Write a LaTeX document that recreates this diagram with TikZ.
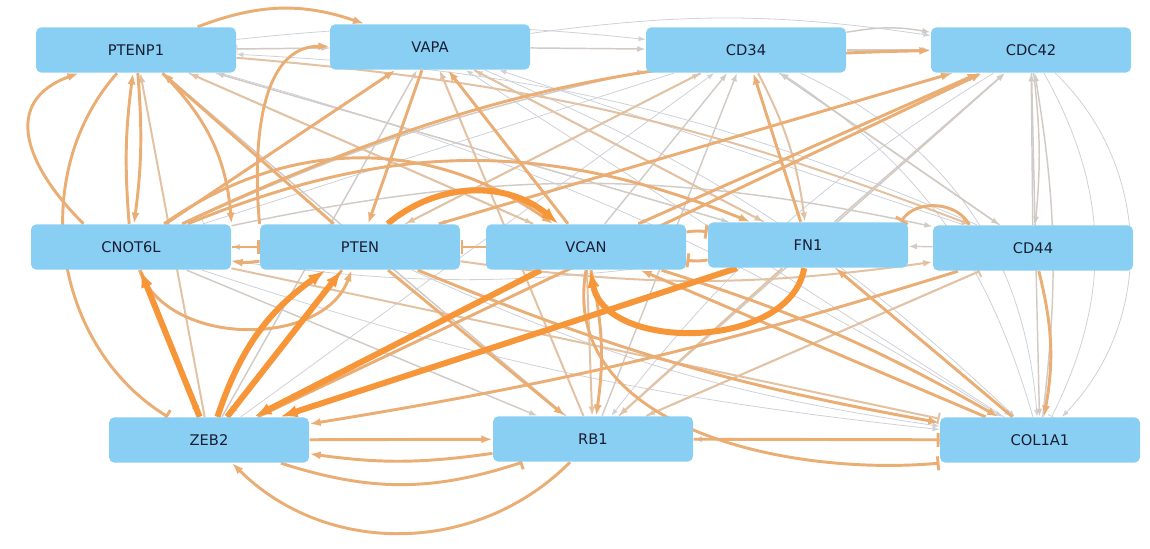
\documentclass[tikz,border=0pt]{standalone}
\usepackage{fontspec}
\setmainfont{DejaVu Sans}
\usetikzlibrary{arrows.meta,backgrounds}

\definecolor{geneblue}{RGB}{137,207,244}
\definecolor{genetext}{RGB}{25,30,50}
\definecolor{hotorange}{RGB}{247,150,56}
\definecolor{warmtan}{RGB}{234,174,116}
\definecolor{midtan}{RGB}{226,194,162}
\definecolor{coolgray}{RGB}{210,203,197}
\definecolor{faintgray}{RGB}{206,209,216}

\tikzset{every picture/.style={line width=0.75pt}}
\tikzset{
  gene/.style={rectangle, rounded corners=4pt, fill=geneblue, text=genetext,
    minimum width=150pt, minimum height=34pt, inner sep=0pt, font=\fontsize{11}{13}\selectfont},
  act/.style={-{Latex[length=4pt 2,width=3pt 1.4]}},
  inh/.style={-{Bar[width=5pt 2.5]}},
  hot/.style={draw=hotorange, line width=4.5pt},
  warm/.style={draw=warmtan, line width=2.2pt},
  mid/.style={draw=midtan, line width=1.5pt},
  cool/.style={draw=coolgray, line width=1.1pt},
  faint/.style={draw=faintgray, line width=0.6pt},
}

\begin{document}
\begin{tikzpicture}[x=0.75pt,y=0.75pt,yscale=-1,xscale=1]
\useasboundingbox (0,0) rectangle (1150,549);

% Genes, top row
\node[gene] (ptenp1) at (136,50) {PTENP1};
\node[gene] (vapa) at (430,47) {VAPA};
\node[gene] (cd34) at (746,50) {CD34};
\node[gene] (cdc42) at (1031,50) {CDC42};
% Genes, middle row
\node[gene] (cnot6l) at (131,247) {CNOT6L};
\node[gene] (pten) at (360,247) {PTEN};
\node[gene] (vcan) at (586,247) {VCAN};
\node[gene] (fn1) at (808,245) {FN1};
\node[gene] (cd44) at (1033,248) {CD44};
% Genes, bottom row
\node[gene] (zeb2) at (209,440) {ZEB2};
\node[gene] (rb1) at (593,439) {RB1};
\node[gene] (col1a1) at (1040,440) {COL1A1};

% (yscale=-1 mirrors the bends: bend right bulges to the left of travel)
\begin{scope}[on background layer]
% faint links
\draw[faint,act] (ptenp1) to[bend right=6] (cd34);
\draw[faint,act] (vapa) to[bend right=8] (cdc42);
\draw[faint,act] (cdc42) to[bend right=45] (col1a1);
\draw[faint,inh] (cdc42) to[bend right=28] (col1a1);
\draw[faint,act] (cd34) to[bend right=30] (col1a1);
\draw[faint,act] (ptenp1) to[bend right=8] (col1a1);
\draw[faint,act] (vapa) to[bend right=10] (col1a1);
\draw[faint,act] (cnot6l) to[bend left=6] (col1a1);
\draw[faint,act] (pten) to[bend left=8] (col1a1);
\draw[faint,inh] (cd34) -- (cnot6l);
\draw[faint,act] (cdc42) -- (pten);
\draw[faint,act] (cdc42) -- (vcan);
\draw[faint,act] (cdc42) to[bend left=10] (rb1);
\draw[faint,act] (col1a1) to[bend left=20] (cd34);
\draw[faint,act] (cd44) -- (vapa);
\draw[faint,act] (col1a1) -- (vapa);
\draw[faint,act] (zeb2) -- (cd34);
\draw[faint,act] (ptenp1) -- (fn1);
\draw[faint,inh] (vapa) -- (ptenp1);
\draw[faint,act] (cd44) to[bend left=10] (ptenp1);
\draw[faint,act] (fn1) to[bend right=8] (cnot6l);

% grey links
\draw[cool,act] (ptenp1) -- (vapa);
\draw[cool,act] (vapa) -- (cd34);
\draw[cool,act] (cd34) -- (cdc42);
\draw[cool,act] (cd34) to[bend right=10] (cdc42);
\draw[cool,act] (cd44) -- (cdc42);
\draw[cool,act] (cdc42) to[bend right=6] (cd44);
\draw[cool,act] (fn1) -- (cdc42);
\draw[cool,act] (rb1) -- (cdc42);
\draw[cool,act] (col1a1) to[bend left=8] (cdc42);
\draw[cool,act] (cd34) -- (cd44);
\draw[cool,act] (vcan) -- (cd34);
\draw[cool,act] (pten) -- (cd34);
\draw[cool,act] (rb1) -- (cd34);
\draw[cool,act] (cd44) -- (cd34);
\draw[cool,act] (cnot6l) to[bend right=6] (cd34);
\draw[cool,act] (fn1) -- (vapa);
\draw[cool,act] (zeb2) -- (vapa);
\draw[cool,act] (fn1) -- (ptenp1);
\draw[cool,act] (rb1) -- (ptenp1);
\draw[cool,act] (ptenp1) -- (vcan);
\draw[cool,act] (cd44) -- (fn1);
\draw[cool,act] (cnot6l) to[bend right=12] (cd44);
\draw[cool,act] (cnot6l) -- (rb1);
\draw[cool,act] (cd44) -- (rb1);
\draw[cool,act] (col1a1) -- (rb1);
\draw[cool,act] (fn1) -- (col1a1);
\draw[cool,act] (cdc42) -- (col1a1);
\draw[cool,act] (pten) -- (cnot6l);

% tan links
\draw[mid,act] (cd34) -- (pten);
\draw[mid,act] (cd34) to[bend right=10] (fn1);
\draw[mid,act] (vapa) -- (fn1);
\draw[mid,act] (vcan) -- (ptenp1);
\draw[mid,act] (rb1) -- (vapa);
\draw[mid,inh] (rb1) -- (cd44);
\draw[mid,act] (zeb2) -- (ptenp1);
\draw[mid,act] (vcan) -- (rb1);
\draw[mid,act] (fn1) -- (rb1);
\draw[mid,inh] (cnot6l) -- (col1a1);
\draw[mid,act] (pten) to[bend left=8] (cd44);
\draw[mid,act] (ptenp1) to[bend right=8] (cd44);

% orange links
\draw[warm,act] (ptenp1) to[bend right=20] (vapa);
\draw[warm,act] (cnot6l.154) to[out=-135,in=160,looseness=1.4] (ptenp1.202);
\draw[warm,act] (cnot6l) to[bend right=6] (ptenp1);
\draw[warm,act] (ptenp1) to[bend right=6] (cnot6l);
\draw[warm,act] (ptenp1) to[bend right=20] (cnot6l.north east);
\draw[warm,inh] (ptenp1) to[bend left=50] (zeb2);
\draw[warm,act] (pten) -- (ptenp1);
\draw[warm,act] (pten.north west) to[out=-95,in=165] (vapa);
\draw[warm,act] (vcan) -- (vapa);
\draw[warm,act] (cnot6l) -- (vapa);
\draw[warm,act] (vapa) -- (pten);
\draw[warm,act] (cnot6l) to[bend right=12] (cdc42);
\draw[warm,act] (pten) -- (cdc42);
\draw[warm,act] (vcan) -- (cdc42);
\draw[warm,act] (zeb2) -- (cdc42);
\draw[warm,act] (fn1) -- (cd34);
\draw[warm,act] (cnot6l) to[bend right=35] (vcan);
\draw[warm,act] (cnot6l) to[bend right=22] (fn1);
\draw[warm,inh] (cnot6l) -- (pten);
\draw[warm,act] (pten) to[bend right=8] (cnot6l);
\draw[warm,inh] (vcan) -- (pten);
\draw[warm,inh] (vcan) to[bend right=8] (fn1);
\draw[warm,inh] (fn1) to[bend right=8] (vcan);
\draw[warm,inh] (cd44.160) to[bend left=60] (fn1.14);
\draw[warm,act] (cnot6l) to[bend left=70] (pten);
\draw[warm,act] (cnot6l) -- (zeb2);
\draw[warm,act] (pten) -- (zeb2);
\draw[warm,act] (cd44) to[bend right=4] (zeb2);
\draw[warm,act] (pten) -- (rb1);
\draw[warm,act] (pten) to[bend left=6] (col1a1);
\draw[warm,act] (vcan) to[bend right=10] (rb1);
\draw[warm,act] (zeb2) -- (rb1);
\draw[warm,act] (rb1) to[bend right=8] (zeb2);
\draw[warm,act] (rb1) to[bend right=45] (zeb2);
\draw[warm,inh] (zeb2) to[bend left=18] (rb1);
\draw[warm,inh] (rb1) -- (col1a1);
\draw[warm,act] (col1a1) -- (vcan);
\draw[warm,act] (vcan) to[bend right=6] (col1a1);
\draw[warm,inh] (vcan.south) to[out=100,in=175] (col1a1.south west);
\draw[warm,act] (col1a1) -- (fn1);
\draw[warm,act] (cd44) to[bend right=12] (col1a1);

% strong links
\draw[hot,act] (pten) to[bend right=40] (vcan);
\draw[hot,act] (zeb2) -- (cnot6l);
\draw[hot,act] (zeb2) to[bend right=18] (pten);
\draw[hot,act] (zeb2) -- (pten);
\draw[hot,act] (vcan) -- (zeb2);
\draw[hot,act] (fn1) -- (zeb2);
\draw[hot,act] (fn1) to[bend right=80] (vcan);
\end{scope}

\end{tikzpicture}
\end{document}
